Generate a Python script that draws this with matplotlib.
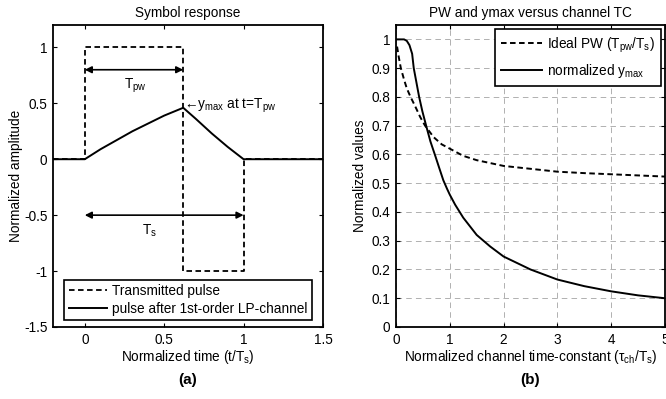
import matplotlib
matplotlib.use("Agg")
import matplotlib.pyplot as plt

plt.rcParams['font.family'] = ['Liberation Sans', 'DejaVu Sans']
plt.rcParams['mathtext.fontset'] = 'custom'
plt.rcParams['mathtext.rm'] = 'Liberation Sans'
plt.rcParams['mathtext.it'] = 'Liberation Sans:italic'
plt.rcParams['mathtext.default'] = 'regular'
plt.rcParams['lines.scale_dashes'] = False

# ---- Panel (a) data ----
pulse_t = [-0.2, 0.0, 0.0, 0.62, 0.62, 1.0, 1.0, 1.5]
pulse_y = [0.0, 0.0, 1.0, 1.0, -1.0, -1.0, 0.0, 0.0]
resp_t = [-0.2, 0.0, 0.1, 0.2, 0.3, 0.4, 0.5, 0.62, 0.7, 0.8, 0.9, 1.0, 1.5]
resp_y = [0.0, 0.0, 0.09, 0.17, 0.25, 0.32, 0.39, 0.46, 0.36, 0.23, 0.11, 0.0, 0.0]
tpw = 0.62
ymax = 0.46

# ---- Panel (b) data ----
pw_tau = [0.02, 0.05, 0.09, 0.15, 0.2, 0.27, 0.35, 0.45, 0.54, 0.7, 0.85, 1.0,
          1.25, 1.5, 2.0, 2.5, 3.0, 3.5, 4.0, 4.5, 5.0]
pw_val = [0.975, 0.94, 0.9, 0.86, 0.83, 0.8, 0.77, 0.73, 0.7, 0.66, 0.635, 0.62,
          0.595, 0.58, 0.56, 0.55, 0.54, 0.535, 0.531, 0.527, 0.523]
ym_tau = [0.0, 0.15, 0.2, 0.25, 0.3, 0.33, 0.38, 0.43, 0.49, 0.56, 0.64, 0.73,
          0.8, 0.88, 0.95, 1.0, 1.1, 1.25, 1.5, 1.75, 2.0, 2.5, 3.0, 3.5, 4.0,
          4.5, 5.0]
ym_val = [1.0, 1.0, 0.995, 0.98, 0.95, 0.9, 0.85, 0.8, 0.75, 0.7, 0.645, 0.595,
          0.555, 0.51, 0.48, 0.46, 0.425, 0.38, 0.32, 0.28, 0.245, 0.2, 0.165,
          0.142, 0.124, 0.11, 0.1]

FS = 9.8
DASH = (0, (4, 2.5))

fig = plt.figure(figsize=(6.66, 3.99), dpi=100)
axa = fig.add_axes([53/666, 1-327/399, 270/666, 302/399])
axb = fig.add_axes([396/666, 1-327/399, 269/666, 302/399])

for ax in (axa, axb):
    ax.tick_params(direction='in', top=True, right=True, labelsize=FS,
                   length=3, width=0.8, pad=4)
    for s in ax.spines.values():
        s.set_linewidth(1.3)

# Panel (a)
axa.plot(pulse_t, pulse_y, color='k', lw=1.3, ls=DASH, label='Transmitted pulse')
axa.plot(resp_t, resp_y, color='k', lw=1.4, label='pulse after 1st-order LP-channel')
axa.set_xlim(-0.2, 1.5)
axa.set_ylim(-1.5, 1.2)
axa.set_xticks([0, 0.5, 1, 1.5])
axa.set_xticklabels(['0', '0.5', '1', '1.5'])
axa.set_yticks([-1.5, -1, -0.5, 0, 0.5, 1])
axa.set_yticklabels(['-1.5', '-1', '-0.5', '0', '0.5', '1'])
axa.annotate('', xy=(0.0, 0.8), xytext=(tpw, 0.8),
             arrowprops=dict(arrowstyle='<|-|>', color='k', lw=1.2,
                             mutation_scale=10, shrinkA=0, shrinkB=0))
axa.annotate('', xy=(0.0, -0.5), xytext=(1.0, -0.5),
             arrowprops=dict(arrowstyle='<|-|>', color='k', lw=1.2,
                             mutation_scale=10, shrinkA=0, shrinkB=0))
axa.text(0.32, 0.66, r'T$_{\rm pw}$', fontsize=FS, ha='center', va='center')
axa.text(0.41, -0.64, r'T$_{\rm s}$', fontsize=FS, ha='center', va='center')
axa.text(tpw + 0.005, ymax + 0.02, '\u2190y$_{\\rm max}$ at t=T$_{\\rm pw}$',
         fontsize=FS, ha='left', va='center')
axa.set_title('Symbol response', fontsize=FS, pad=6)
axa.set_xlabel(r'Normalized time (t/T$_{\rm s}$)', fontsize=FS, labelpad=1)
axa.set_ylabel('Normalized amplitude', fontsize=FS, labelpad=1)
leg = axa.legend(loc='lower center', fontsize=FS, handlelength=2.8,
                 borderaxespad=0.5, fancybox=False, framealpha=1,
                 edgecolor='k', borderpad=0.3, labelspacing=0.3,
                 handletextpad=0.4)
leg.get_frame().set_linewidth(1.2)

# Panel (b)
axb.plot(pw_tau, pw_val, color='k', lw=1.4, ls=DASH,
         label=r'Ideal PW (T$_{\rm pw}$/T$_{\rm s}$)')
axb.plot(ym_tau, ym_val, color='k', lw=1.4, label=r'normalized y$_{\rm max}$')
axb.set_xlim(0, 5)
axb.set_ylim(0, 1.05)
axb.set_xticks([0, 1, 2, 3, 4, 5])
axb.set_yticks([0, 0.1, 0.2, 0.3, 0.4, 0.5, 0.6, 0.7, 0.8, 0.9, 1.0])
axb.set_yticklabels(['0', '0.1', '0.2', '0.3', '0.4', '0.5', '0.6', '0.7',
                     '0.8', '0.9', '1'])
axb.grid(True, color='#b0b0b0', ls=(0, (4, 3)), lw=0.7)
axb.set_title('PW and ymax versus channel TC', fontsize=FS, pad=6)
axb.set_xlabel(r'Normalized channel time-constant ($\tau_{\rm ch}$/T$_{\rm s}$)',
               fontsize=FS, labelpad=1)
axb.set_ylabel('Normalized values', fontsize=FS, labelpad=3)
legb = axb.legend(loc='upper right', fontsize=FS, handlelength=3,
                  borderaxespad=0.3, fancybox=False, framealpha=1,
                  edgecolor='k', borderpad=0.45, labelspacing=0.55,
                  handletextpad=0.4)
legb.get_frame().set_linewidth(1.2)

fig.text(188/666, 1-380/399, '(a)', fontsize=11, fontweight='bold',
         ha='center', va='center')
fig.text(530/666, 1-380/399, '(b)', fontsize=11, fontweight='bold',
         ha='center', va='center')

fig.savefig('out.png', dpi=100)
